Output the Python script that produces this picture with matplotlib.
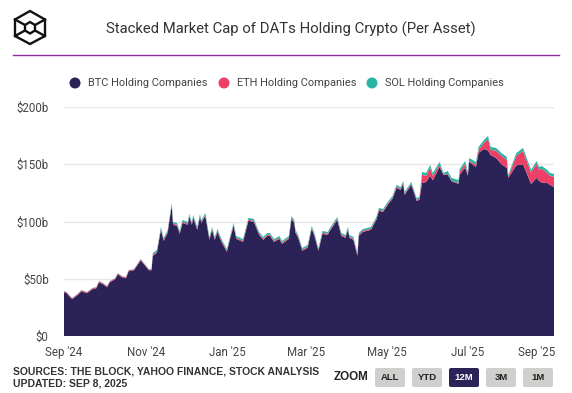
import matplotlib
matplotlib.use('Agg')
import matplotlib.pyplot as plt
from matplotlib.patches import Circle, FancyBboxPatch, Polygon

plt.rcParams['font.family'] = ['Roboto', 'DejaVu Sans']

# days since Sep 8 2024
days = [0, 2, 6, 10, 13, 17, 21, 24, 26, 29, 32, 34, 38, 40, 43, 46, 48, 52, 54, 57, 60, 63, 65,
        66, 69, 72, 74, 77, 80, 81, 84, 86, 88, 92, 93, 95, 96, 99, 101, 102, 105, 108, 110, 112, 114, 117, 121,
        124, 126, 128, 133, 137, 141, 145, 148, 151, 153, 156, 160, 162, 167, 169, 171, 172, 174, 177, 181, 184,
        186, 189, 192, 196, 197, 200, 203, 206, 209, 211, 212, 215, 218, 219, 222, 228, 232, 234, 237, 241, 244,
        247, 250, 252, 253, 258, 262, 264,
        266, 269, 272, 274, 279, 282, 285, 288, 293, 294, 298, 300, 301, 306, 308, 312, 315, 317, 321, 325, 329,
        330, 336, 341, 347, 351, 353, 355, 359, 361, 364]
btc = [38.2, 37.3, 32.1, 35.6, 39.1, 37.3, 40.8, 41.7, 46.9, 45.2, 42.6, 46.9, 49.6, 53.9, 51.3, 50.4, 56.5, 57.4, 60.9, 66.1, 61.8, 57.4, 57.4,
       70.0, 72.6, 92.7, 83.1, 90.1, 113.7, 97.1, 96.2, 89.2, 98.8, 97.1, 104.1, 97.1, 103.2, 92.7, 104.1, 98.8, 104.9, 84.0, 92.7, 84.0, 90.9, 82.2, 73.5,
       87.5, 96.2, 84.8, 82.2, 100.6, 99.7, 88.3, 84.0, 87.5, 87.5, 82.2, 84.8, 80.5, 84.8, 102.3, 98.8, 90.1, 85.7, 74.4, 77.0, 93.6,
       87.5, 74.4, 89.2, 88.3, 90.9, 96.2, 101.4, 87.5, 85.7, 92.7, 85.7, 84.0, 70.0, 87.5, 90.9, 92.7, 101.4, 109.3, 108.4, 115.4, 119.8,
       129.4, 127.6, 132.9, 123.3, 132.0, 118.0, 118.9,
       133.6, 134.5, 140.0, 136.0, 147.6, 140.6, 141.0, 135.0, 133.0, 141.0, 147.0, 140.0, 152.0, 147.6, 160.0, 163.3, 162.0, 158.0, 155.5, 150.0, 146.7,
       138.0, 149.0, 150.0, 132.8, 138.0, 135.4, 134.0, 133.6, 132.0, 130.0]
eth = [0.8] * 23 + [1.0] * 73 + [
       7.1, 5.4, 6.8, 3.9, 1.9, 0.5, 0.6, 0.5, 0.7, 2.4, 3.3, 0.7, 1.0, 1.9, 2.6, 5.4, 10.2, 4.6, 6.2, 7.3, 7.1,
       1.1, 8.3, 11.7, 9.7, 12.3, 9.7, 12.0, 8.9, 7.9, 9.0]
sol = [0.3] * 23 + [1.5] * 73 + [
       2.5, 2.5, 2.5, 2.5, 2.5, 1.3, 2.5, 2.5, 2.5, 2.5, 2.5, 2.5, 2.5, 2.5, 2.5, 2.5, 2.5, 2.5, 2.5, 2.5, 2.5,
       1.5, 2.5, 2.5, 2.5, 2.5, 2.5, 2.5, 2.5, 2.5, 2.5]

x_ticks = [0, 61, 121.5, 179.6, 240, 300, 351]
x_labels = ["Sep '24", "Nov '24", "Jan '25", "Mar '25", "May '25", "Jul '25", "Sep '25"]
y_ticks = [0, 50, 100, 150, 200]
y_labels = ['$0', '$50b', '$100b', '$150b', '$200b']
series_names = ['BTC Holding Companies', 'ETH Holding Companies', 'SOL Holding Companies']
colors = ['#2b2257', '#ee3f66', '#2bb3a3']
buttons = ['ALL', 'YTD', '12M', '3M', '1M']

W, H = 572, 393
fig = plt.figure(figsize=(W / 100, H / 100), dpi=100)
ax = fig.add_axes([64 / W, 1 - 336 / H, 490 / W, 229 / H])
ax.stackplot(days, btc, eth, sol, colors=colors, linewidth=0)
ax.set_xlim(0, 364)
ax.set_ylim(0, 200)
ax.set_xticks(x_ticks, x_labels)
ax.set_yticks(y_ticks, [s.replace('$', r'\$') for s in y_labels])
ax.tick_params(axis='x', length=0, pad=7, labelsize=8.3, labelcolor='#444444')
ax.tick_params(axis='y', length=0, pad=11, labelsize=8.3, labelcolor='#444444')
ax.grid(axis='y', color='#e6e6e6', linewidth=1)
ax.set_axisbelow(True)
for s in ax.spines.values():
    s.set_visible(False)

# everything around the chart, in pixel coordinates
bg = fig.add_axes([0, 0, 1, 1], zorder=5)
bg.set_xlim(0, W)
bg.set_ylim(H, 0)
bg.axis('off')
bg.patch.set_alpha(0)

# logo
bg.add_patch(Polygon([(30, 11), (45, 19.5), (45, 36), (30, 44), (15, 36), (15, 19.5)], fill=False, ec='#111111', lw=1.7))
bg.add_patch(Polygon([(30, 22), (35, 25), (35, 30.5), (30, 33.5), (25, 30.5), (25, 25)], fill=False, ec='#111111', lw=1.7))
for a, b in [((15, 19.5), (25, 25)), ((45, 19.5), (35, 25)), ((15, 36), (25, 30.5)), ((45, 36), (35, 30.5))]:
    bg.plot([a[0], b[0]], [a[1], b[1]], color='#111111', lw=1.7)

bg.text(290.5, 29, 'Stacked Market Cap of DATs Holding Crypto (Per Asset)', ha='center', va='center',
        fontsize=10.75, color='#333333')
bg.plot([13, 559], [55, 55], color='#8e2c9e', lw=1)

# legend
for cx, tx, name, c in zip([75, 224, 372], [88.5, 237, 385], series_names, colors):
    bg.add_patch(Circle((cx, 83), 5.5, color=c, lw=0))
    bg.text(tx, 83, name, ha='left', va='center', fontsize=7.9, color='#444444')

# footer
bg.text(13, 371, 'SOURCES: THE BLOCK, YAHOO FINANCE, STOCK ANALYSIS', ha='left', va='center',
        fontsize=7.45, fontweight='bold', family='Liberation Sans', color='#333333')
bg.text(13, 383, 'UPDATED: SEP 8, 2025', ha='left', va='center',
        fontsize=7.45, fontweight='bold', family='Liberation Sans', color='#333333')
bg.text(334, 377, 'ZOOM', ha='left', va='center', fontsize=8.4, fontweight='bold',
        family='Liberation Sans', color='#222222')

for i, b in enumerate(buttons):
    left = 374 + i * 37
    active = b == '12M'
    bg.add_patch(FancyBboxPatch((left + 1, 368), 30, 19, boxstyle='round,pad=0,rounding_size=2', lw=0,
                                fc=colors[0] if active else '#cfcfcd'))
    bg.text(left + 16, 378, b, ha='center', va='center', fontsize=6.8, fontweight='bold',
            family='Liberation Sans', color='white' if active else '#222222')

fig.savefig('out.png', dpi=100)
